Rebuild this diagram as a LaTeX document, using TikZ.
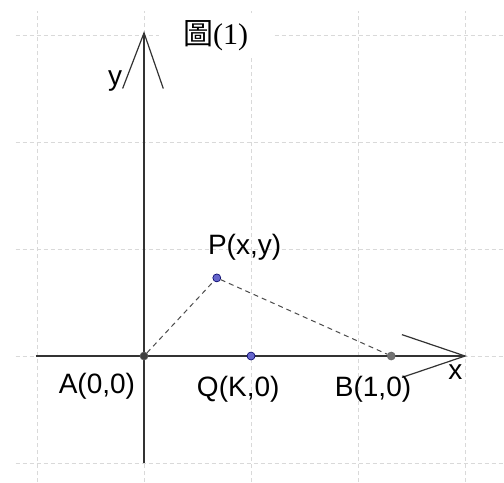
\documentclass[tikz,border=0pt]{standalone}
\usepackage{fontspec}
\setmainfont{Liberation Sans}
\newfontfamily\cjk{Noto Sans CJK TC}
\newfontfamily\titleserif{Liberation Serif}
\usetikzlibrary{positioning, calc}

\begin{document}
\begin{tikzpicture}[
    x=53.5pt, y=53.5pt,
    gridline/.style={
        draw=gray!30,
        dashed,
        dash pattern=on 2pt off 1.5pt,
        line width=0.4pt
    },
    axis/.style={
        draw=black!80,
        line width=0.6pt
    },
    seg/.style={
        draw=black!70,
        dashed,
        dash pattern=on 2.5pt off 2pt,
        line width=0.5pt
    },
    pt/.style={
        circle,
        draw=black!60,
        line width=0.3pt,
        inner sep=0pt,
        minimum size=4pt
    },
    lbl/.style={
        font=\fontsize{14}{16}\selectfont,
        inner sep=0pt
    }
]

    % Frame
    \useasboundingbox[fill=white] (-1.346,-1.178) rectangle (3.364,3.327);

    % Grid
    \draw[gridline, step=1] (-1.2,-1.178) grid (3.364,3.22);

    % Title
    \node[font=\fontsize{15}{17}\selectfont, fill=white, inner xsep=12pt, inner ysep=3pt] (title) at (0.67,2.99) {{\cjk 圖}{\titleserif (1)}};

    % Axes
    \coordinate (xmin) at (-1.01,0);
    \coordinate (xmax) at (3.0,0);
    \coordinate (ymin) at (0,-1.0);
    \coordinate (ymax) at (0,3.02);
    \draw[axis] (xmin) -- (xmax);
    \draw[axis] (ymin) -- (ymax);

    % Arrow heads
    \draw[axis] (2.41,0.2) -- (xmax) -- (2.41,-0.2);
    \draw[axis] (-0.2,2.5) -- (ymax) -- (0.18,2.5);

    % Axis names
    \node[lbl] (ylab) at (-0.27,2.57) {y};
    \node[lbl] (xlab) at (2.91,-0.15) {x};

    % Points
    \node[pt, fill=black!75] (A) at (0,0) {};
    \node[pt, fill=blue!50!gray!80, draw=blue!40!black] (Q) at (1,0) {};
    \node[pt, fill=black!55] (B) at (2.31,0) {};
    \node[pt, fill=blue!50!gray!80, draw=blue!40!black] (P) at (0.68,0.73) {};

    % Segments
    \draw[seg] (A) -- (P);
    \draw[seg] (P) -- (B);

    % Point labels
    \node[lbl] (labA) at (-0.44,-0.28) {A(0,0)};
    \node[lbl] (labQ) at (0.88,-0.31) {Q(K,0)};
    \node[lbl] (labB) at (2.14,-0.31) {B(1,0)};
    \node[lbl] (labP) at (0.94,1.02) {P(x,y)};

\end{tikzpicture}
\end{document}
